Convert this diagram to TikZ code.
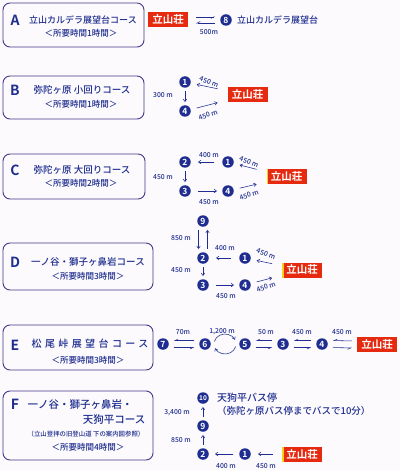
\documentclass[tikz,border=0pt]{standalone}
\usepackage{fontspec}
\setmainfont{Noto Sans CJK JP Medium}[BoldFont={Noto Sans CJK JP Bold}]
\newfontfamily\jpwide{Noto Sans CJK JP Medium}[LetterSpace=34]
\usetikzlibrary{positioning, arrows.meta, calc}
\definecolor{trailnavy}{HTML}{1E2D8F}
\definecolor{trailframe}{HTML}{46388C}
\definecolor{hutred}{HTML}{E62A10}
\definecolor{hutedge}{HTML}{F2D21A}
\definecolor{paper}{HTML}{FCFAFC}

\tikzset{
  course/.style={draw=trailframe, line width=0.9pt, rounded corners=7pt},
  courseletter/.style={text=trailnavy, font=\fontsize{14}{14}\selectfont\bfseries},
  coursetitle/.style={text=trailnavy, font=\fontsize{9}{11}\selectfont},
  coursesub/.style={text=trailnavy, font=\fontsize{8.5}{10}\selectfont},
  placetext/.style={text=trailnavy, font=\fontsize{9}{11}\selectfont, inner sep=0pt},
  hut/.style={fill=hutred, text=white, font=\fontsize{10.5}{10}\selectfont\bfseries,
    inner sep=1pt, minimum width=40pt, minimum height=15pt},
  hutlit/.style={hut, path picture={\fill[hutedge] (path picture bounding box.south west)
    rectangle ([xshift=1.6pt]path picture bounding box.north west);}},
  stop/.style={circle, fill=trailnavy, text=white, inner sep=0pt, minimum size=11.5pt,
    font=\fontsize{8.5}{8}\selectfont\bfseries},
  dist/.style={text=trailnavy, font=\fontsize{6.8}{7}\selectfont, inner sep=1pt},
  walk/.style={draw=trailnavy, line width=0.55pt, -{Straight Barb[length=2.5pt,width=3.5pt]},
    shorten <=3pt, shorten >=3pt},
  walkpair/.style={walk, -{Straight Barb[right,length=3pt,width=3pt]}, shorten <=5pt, shorten >=5pt}
}

\begin{document}
\begin{tikzpicture}[x=1pt, y=-1pt]
  \useasboundingbox[fill=paper] (0,0) rectangle (400,470);

  % course frames and letters
  \foreach \t/\b/\r in {3/47/144, 76/119/144, 154/199/145, 243/290/153, 325/370/153, 391/460/153}
    \draw[course] (3,\t) rectangle (\r,\b);
  \foreach \l/\y in {A/20, B/90, C/170, D/262, E/345, F/404}
    \node[courseletter] (letter\l) at (15,\y) {\l};

  \node[coursetitle] (titleA) at (83,20) {立山カルデラ展望台コース};
  \node[coursesub] (subA) at (81,33) {＜所要時間1時間＞};
  \node[coursetitle, font=\fontsize{9.5}{11}\selectfont] (titleB) at (82,90) {弥陀ヶ原 小回りコース};
  \node[coursesub] (subB) at (81,104) {＜所要時間1時間＞};
  \node[coursetitle, font=\fontsize{9.5}{11}\selectfont] (titleC) at (82,170) {弥陀ヶ原 大回りコース};
  \node[coursesub] (subC) at (81,183) {＜所要時間2時間＞};
  \node[coursetitle, font=\fontsize{9.5}{11}\selectfont] (titleD) at (88,262) {一ノ谷・獅子ヶ鼻岩コース};
  \node[coursesub] (subD) at (88,276) {＜所要時間3時間＞};
  \node[coursetitle, font=\fontsize{10}{11}\jpwide] (titleE) at (90,344) {松尾峠展望台コース};
  \node[coursesub] (subE) at (88,360) {＜所要時間3時間＞};
  \node[coursetitle, font=\fontsize{10.5}{12}\selectfont, anchor=west] (titleF) at (24,405) {一ノ谷・獅子ヶ鼻岩・};
  \node[coursetitle, font=\fontsize{10.5}{12}\selectfont, anchor=east] (titleFb) at (149,420) {天狗平コース};
  \node[coursetitle, font=\fontsize{6.4}{7}\selectfont] (noteF) at (86,434) {（立山登拝の旧登山道 下の案内図参照）};
  \node[coursesub] (subF) at (88,447) {＜所要時間4時間＞};

  % A
  \node[hut] (hutA) at (168,20) {立山荘};
  \node[stop] (a8) at (226,20) {8};
  \node[placetext, right=5pt of a8] (caldera) {立山カルデラ展望台};
  \draw[walkpair, shorten <=8pt] ([yshift=3pt]hutA.east) -- ([yshift=3pt]a8.west);
  \draw[walkpair, shorten >=8pt] ([yshift=-3pt]a8.west) -- ([yshift=-3pt]hutA.east);
  \node[dist] at (209,32) {500m};

  % B
  \node[hut] (hutB) at (247.5,95) {立山荘};
  \node[stop] (b1) at (185,82) {1};
  \node[stop] (b4) at (185,111) {4};
  \draw[walk, shorten <=10pt, shorten >=6pt] (hutB) -- (b1);
  \draw[walk] (b1) -- (b4);
  \draw[walk, shorten <=6pt, shorten >=10pt] (b4) -- (hutB);
  \node[dist] at (163,95) {300 m};
  \node[dist, rotate=-20] at (209,82) {450 m};
  \node[dist, rotate=20] at (208,115) {450 m};

  % C
  \node[hutlit] (hutC) at (286.5,177) {立山荘};
  \node[stop] (c2) at (185,162) {2};
  \node[stop] (c1) at (228,162) {1};
  \node[stop] (c3) at (185,191) {3};
  \node[stop] (c4) at (228,191) {4};
  \draw[walk, shorten <=10pt, shorten >=6pt] (hutC) -- (c1);
  \draw[walk, shorten <=8pt, shorten >=7pt] (c1) -- (c2);
  \draw[walk] (c2) -- (c3);
  \draw[walk, shorten <=7pt, shorten >=5pt] (c3) -- (c4);
  \draw[walk, shorten <=6pt, shorten >=10pt] (c4) -- (hutC);
  \node[dist] at (209,155) {400 m};
  \node[dist] at (163,177) {450 m};
  \node[dist] at (209,202) {450 m};
  \node[dist, rotate=-20] at (249,162) {450 m};
  \node[dist, rotate=20] at (249,195) {450 m};

  % D
  \node[hutlit] (hutD) at (302,270) {立山荘};
  \node[stop] (d9) at (203,221) {9};
  \node[stop] (d2) at (203,258) {2};
  \node[stop] (d1) at (245,258) {1};
  \node[stop] (d3) at (203,285) {3};
  \node[stop] (d4) at (245,285) {4};
  \draw[walk, shorten <=10pt, shorten >=6pt] (hutD) -- (d1);
  \draw[walk, shorten <=8pt, shorten >=7pt] (d1) -- (d2);
  \draw[walk] ([xshift=-4.5pt]d9.south) -- ([xshift=-4.5pt]d2.north);
  \draw[walk] ([xshift=4.5pt]d2.north) -- ([xshift=4.5pt]d9.south);
  \draw[walk] (d2) -- (d3);
  \draw[walk, shorten <=7pt, shorten >=5pt] (d3) -- (d4);
  \draw[walk, shorten <=6pt, shorten >=10pt] (d4) -- (hutD);
  \node[dist] at (181,238) {850 m};
  \node[dist] at (225,248) {400 m};
  \node[dist] at (181,270) {450 m};
  \node[dist] at (226,296) {450 m};
  \node[dist, rotate=-20] at (266,254) {450 m};
  \node[dist, rotate=20] at (266,287) {450 m};

  % E
  \node[hut] (hutE) at (377,344.5) {立山荘};
  \node[stop] (e7) at (163,344) {7};
  \node[stop] (e6) at (205,344) {6};
  \node[stop] (e5) at (245,344) {5};
  \node[stop] (e3) at (283,344) {3};
  \node[stop] (e4) at (322,344) {4};
  \foreach \a/\b in {e7/e6, e5/e3, e3/e4, e4/hutE} {
    \draw[walkpair] ([yshift=3.5pt]\b.west) -- ([yshift=3.5pt]\a.east);
    \draw[walkpair] ([yshift=-3.5pt]\a.east) -- ([yshift=-3.5pt]\b.west);
  }
  \coordinate (eloop) at ($(e6)!0.5!(e5)$);
  \draw[walk, shorten <=0pt, shorten >=0pt] ($(eloop)+(165:11pt and 10pt)$)
    arc[start angle=165, end angle=25, x radius=11pt, y radius=10pt];
  \draw[walk, shorten <=0pt, shorten >=0pt] ($(eloop)+(-15:11pt and 10pt)$)
    arc[start angle=-15, end angle=-155, x radius=11pt, y radius=10pt];
  \node[dist] at (183,332) {70m};
  \node[dist] at (222,332) {1,200 m};
  \node[dist] at (266,332) {50 m};
  \node[dist] at (302,332) {450 m};
  \node[dist] at (342,332) {450 m};

  % F
  \node[hutlit] (hutF) at (302,454) {立山荘};
  \node[stop] (f10) at (203,398) {\fontsize{6.5}{6}\selectfont 10};
  \node[stop] (f9) at (203,426) {9};
  \node[stop] (f2) at (203,454) {2};
  \node[stop] (f1) at (245,454) {1};
  \node[placetext, font=\fontsize{10}{12}\selectfont, right=8pt of f10] (busstop) {天狗平バス停};
  \node[placetext, font=\fontsize{9.5}{11}\selectfont, below=3pt of busstop.south west, anchor=north west]
    (busnote) {（弥陀ヶ原バス停までバスで10分）};
  \draw[walk, shorten <=9pt, shorten >=7pt] (hutF) -- (f1);
  \draw[walk, shorten <=6pt, shorten >=6pt] (f1) -- (f2);
  \draw[walk] (f2) -- (f9);
  \draw[walk] (f9) -- (f10);
  \node[dist] at (177,413) {3,400 m};
  \node[dist] at (181,440) {850 m};
  \node[dist] at (226,466) {400 m};
  \node[dist] at (266,466) {450 m};
\end{tikzpicture}
\end{document}
